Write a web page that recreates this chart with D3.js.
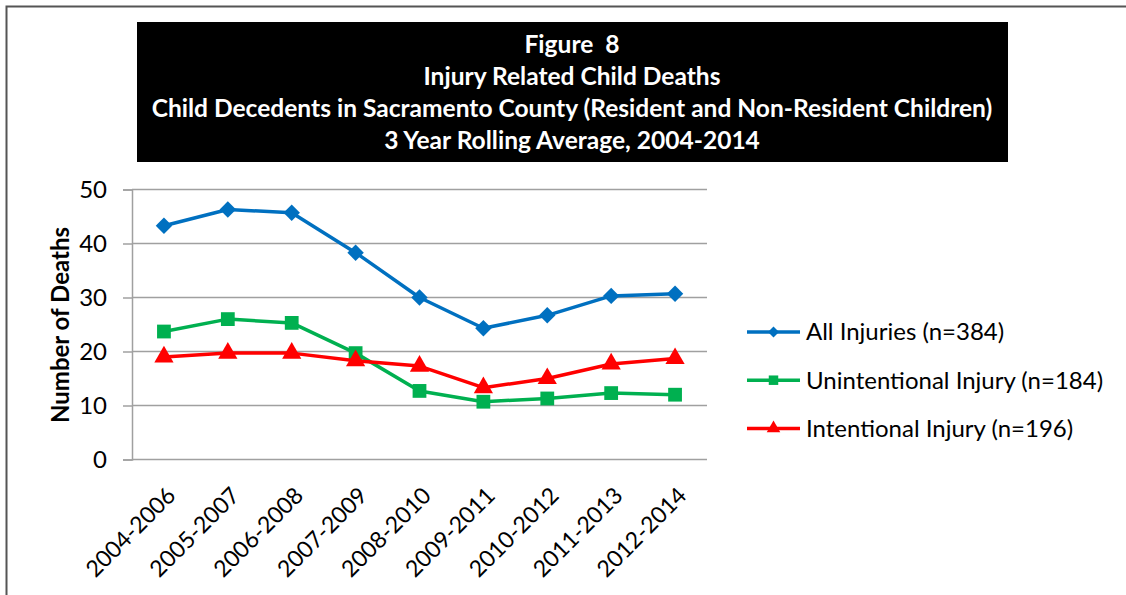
<!DOCTYPE html>
<html><head><meta charset="utf-8">
<script src="https://cdn.jsdelivr.net/npm/d3@7"></script>
<style>
html,body{margin:0;padding:0;background:#fff;}
svg{display:block;font-family:Lato,"Open Sans",sans-serif;}
</style></head>
<body>
<svg id="chart" width="1126" height="595"></svg>
<script>
const titleLines = ["Figure  8","Injury Related Child Deaths","Child Decedents in Sacramento County (Resident and Non-Resident Children)","3 Year Rolling Average, 2004-2014"];
const categories = ["2004-2006","2005-2007","2006-2008","2007-2009","2008-2010","2009-2011","2010-2012","2011-2013","2012-2014"];
const allInjuries = [43.3,46.3,45.7,38.3,30.0,24.3,26.7,30.3,30.7];
const unintentional = [23.7,26.0,25.3,19.7,12.7,10.7,11.3,12.3,12.0];
const intentional = [19.0,19.7,19.7,18.3,17.3,13.3,15.0,17.7,18.7];
const seriesNames = ["All Injuries (n=384)","Unintentional Injury (n=184)","Intentional Injury (n=196)"];
const yTicks = [0,10,20,30,40,50];
const yLabel = "Number of Deaths";

const series = [
  {name:seriesNames[0], values:allInjuries, color:"#0070C0", shape:"diamond"},
  {name:seriesNames[1], values:unintentional, color:"#00B050", shape:"square"},
  {name:seriesNames[2], values:intentional, color:"#FF0000", shape:"triangle"}
];

const svg = d3.select("#chart");
// outer frame (top and left)
svg.append("path").attr("d","M6.5,595 V6.5 H1126").attr("fill","none").attr("stroke","#555").attr("stroke-width",2);

// title box
svg.append("rect").attr("x",137).attr("y",22).attr("width",871).attr("height",140).attr("fill","#000");
const tg = svg.append("g").attr("font-weight","bold").attr("fill","#fff").attr("text-anchor","middle");
const tt = tg.selectAll("text").data(titleLines).join("text")
  .attr("x",572).attr("y",(d,i)=>44+i*32.3).attr("dy","0.35em").attr("font-size",20)
  .style("white-space","pre").attr("xml:space","preserve").text(d=>d);
const w0 = tt.nodes()[2].getComputedTextLength();
tt.attr("font-size",20*841/w0);

const margin = {left:132, right:707, top:189.5, bottom:459.5};
const x = d3.scaleBand().domain(categories).range([margin.left, margin.right]);
const y = d3.scaleLinear().domain([0,50]).range([margin.bottom, margin.top]);

// gridlines
svg.append("g").selectAll("line").data(yTicks).join("line")
  .attr("x1",margin.left).attr("x2",margin.right)
  .attr("y1",d=>y(d)).attr("y2",d=>y(d))
  .attr("stroke","#a0a0a0").attr("stroke-width",1.5);

// y axis
const yAxis = svg.append("g").attr("transform",`translate(${margin.left},0)`)
  .call(d3.axisLeft(y).tickValues(yTicks).tickSize(9).tickPadding(16));
yAxis.select(".domain").attr("stroke","#a0a0a0").attr("stroke-width",1.5);
yAxis.selectAll(".tick line").attr("stroke","#a0a0a0").attr("stroke-width",1.5);
yAxis.selectAll(".tick text").attr("font-family","Lato").attr("font-size",24).attr("fill","#000");

// x axis labels
const xg = svg.append("g");
xg.selectAll("text").data(categories).join("text")
  .attr("transform",d=>`translate(${x(d)+x.bandwidth()/2+13},497) rotate(-45)`)
  .attr("text-anchor","end").attr("font-size",23).attr("fill","#000").text(d=>d);

// y label
svg.append("text").attr("transform","translate(61,325) rotate(-90)")
  .attr("text-anchor","middle").attr("dy","0.35em").attr("font-weight","bold").attr("font-size",24).text(yLabel);

const cx = d=>x(d)+x.bandwidth()/2;
const sym = {diamond:d3.symbolSquare, square:d3.symbolSquare, triangle:d3.symbolTriangle};
const rot = {diamond:45, square:0, triangle:0};
const symSize = {diamond:135, square:190, triangle:160};
const line = d3.line().x((d,i)=>cx(categories[i])).y(d=>y(d));

series.forEach(s=>{
  svg.append("path").attr("d",line(s.values)).attr("fill","none")
    .attr("stroke",s.color).attr("stroke-width",3.5).attr("stroke-linejoin","round");
  svg.append("g").selectAll("path").data(s.values).join("path")
    .attr("transform",(d,i)=>`translate(${cx(categories[i])},${y(d)}) rotate(${rot[s.shape]})`)
    .attr("d",d3.symbol(sym[s.shape], symSize[s.shape])).attr("fill",s.color);
});

// legend
const lg = svg.append("g");
series.forEach((s,i)=>{
  const ly = 332 + i*48.2;
  lg.append("line").attr("x1",747).attr("x2",800).attr("y1",ly).attr("y2",ly)
    .attr("stroke",s.color).attr("stroke-width",3.5);
  lg.append("path").attr("transform",`translate(773.5,${ly}) rotate(${rot[s.shape]})`)
    .attr("d",d3.symbol(sym[s.shape], s.shape==="square"?90:(s.shape==="diamond"?60:80))).attr("fill",s.color);
  lg.append("text").attr("x",806).attr("y",ly).attr("dy","0.35em")
    .attr("font-size",24).attr("fill","#000").text(s.name);
});
</script>
</body></html>
